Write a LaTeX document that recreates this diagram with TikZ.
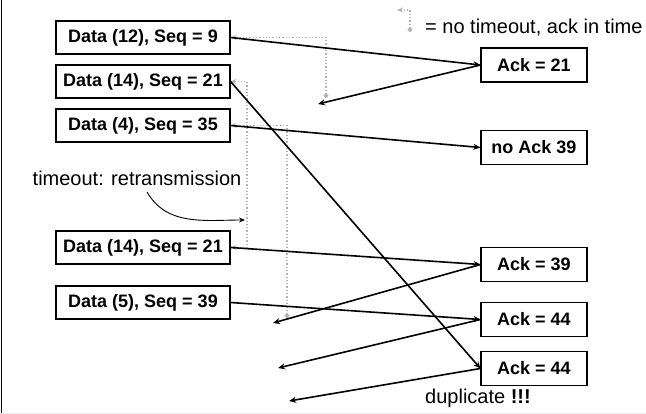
\documentclass[tikz,border=0pt]{standalone}
\usepackage{fontspec}
\setmainfont{Liberation Sans}
\usetikzlibrary{arrows.meta,positioning}

\tikzset{
  data/.style={draw,line width=1.1pt,minimum width=174pt,minimum height=33pt,inner sep=0pt,font=\fontsize{18}{20}\selectfont\bfseries},
  ack/.style={draw,line width=1.1pt,minimum width=106pt,minimum height=34pt,inner sep=0pt,font=\fontsize{18}{20}\selectfont\bfseries},
  msg/.style={line width=1.6pt,-{Stealth[length=7pt,width=6pt]}},
  timer/.style={gray!60,dotted,line width=1.3pt,{Circle[length=4.5pt]}-{Stealth[length=6pt,width=5pt]}},
  retry/.style={gray!60,dotted,line width=1.3pt,{Stealth[length=6pt,width=5pt]}-{Stealth[length=6pt,width=5pt]}},
  note/.style={font=\fontsize{20}{22}\selectfont,inner sep=0pt}
}

\begin{document}
\begin{tikzpicture}[x=1pt,y=-1pt,node distance=44pt,on grid]
\useasboundingbox (0,0) rectangle (646,414);
\draw[line width=1.5pt] (1.5,0) -- (1.5,414);
\draw[gray!15] (0,413.5) -- (646,413.5);

% sender side
\node[data] (d1) at (143,37.5) {Data (12), Seq = 9};
\node[data,below=of d1] (d2) {Data (14), Seq = 21};
\node[data,below=of d2] (d3) {Data (4), Seq = 35};
\node[data] (d4) at (143,247.5) {Data (14), Seq = 21};
\node[data,below=55pt of d4] (d5) {Data (5), Seq = 39};

% receiver side
\node[ack] (a21) at (534,65) {Ack = 21};
\node[ack] (n39) at (534,147.5) {no Ack 39};
\node[ack] (a39) at (534,264.5) {Ack = 39};
\node[ack,below=55pt of a39] (a44) {Ack = 44};
\node[ack,below=49pt of a44] (a44b) {Ack = 44};

% arrival points of acks, timers
\coordinate (r1) at (318,104);
\coordinate (r3) at (273,323);
\coordinate (r4) at (278,368);
\coordinate (r5) at (289,401);
\coordinate (t1) at (326,98);
\coordinate (t3) at (287,318);
\coordinate (tmo) at (247,220);

\draw[timer] (t1) |- (d1.east);
\draw[timer] (t3) |- (d3.east);
\draw[retry] (d2.east) -| (tmo) |- (d4.east);

\path[msg]
  (d1.east) edge (a21.west)
  (a21.west) edge (r1)
  (d2.east) edge (a44b.west)
  (d3.east) edge (n39.west)
  (d4.east) edge (a39.west)
  (a39.west) edge (r3)
  (d5.east) edge (a44.west)
  (a44.west) edge (r4)
  (a44b.west) edge (r5);

% notes
\node[note] (tlab) at (137,178) {timeout: retransmission};
\draw[line width=0.9pt,-{Stealth[length=6pt,width=5pt]}] (147,192) to[out=-60,in=180] ([xshift=-2pt]tmo);
\node[note] (dup) at (478,398) {duplicate \textbf{!!!}};

% legend
\coordinate (lg) at (410,32);
\draw[timer] (lg) |- ++(-13,-22);
\node[note,anchor=west] (leg) at (425,28) {= no timeout, ack in time};
\end{tikzpicture}
\end{document}
